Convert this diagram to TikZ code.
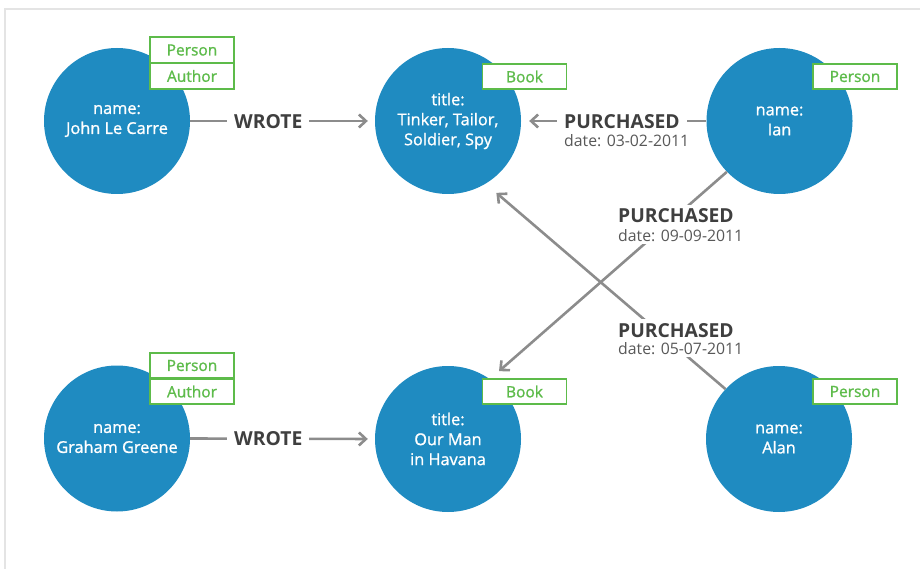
\documentclass[tikz,border=0pt]{standalone}
\usepackage{fontspec}
\setmainfont{Open Sans}
\newfontface\semib{Open Sans}[FakeBold=1.1]
\usetikzlibrary{arrows.meta,calc}

\definecolor{nodeblue}{HTML}{1F8BC1}
\definecolor{labelgreen}{HTML}{5DBB4A}
\definecolor{linegray}{HTML}{8C8C8C}
\definecolor{reltext}{HTML}{3F3F3F}
\definecolor{datetext}{HTML}{585858}
\definecolor{framegray}{HTML}{E4E4E4}

\begin{document}
\begin{tikzpicture}[x=1pt,y=-1pt,
  entity/.style={circle, fill=nodeblue, minimum size=146pt, inner sep=0pt,
    text=white, align=center, font=\semib\fontsize{16.3}{20}\selectfont},
  tag/.style={draw=labelgreen, line width=1.6pt, fill=white, text=labelgreen,
    minimum width=84pt, minimum height=25.5pt, inner sep=0pt,
    font=\semib\fontsize{15.5}{18}\selectfont},
  conn/.style={draw=linegray, line width=2.6pt,
    -{Straight Barb[length=7pt,width=13pt]}},
  rel/.style={fill=white, text=reltext, anchor=base west,
    font=\bfseries\fontsize{19.3}{22}\selectfont, inner xsep=7pt, inner ysep=4pt},
  reldate/.style={fill=white, text=datetext, anchor=base west,
    font=\fontsize{15.8}{18}\selectfont, inner xsep=7pt, inner ysep=3pt},
]
\useasboundingbox (0,0) rectangle (920,569);

% panel frame
\draw[framegray, line width=1.6pt] (5,569) -- (5,9) -- (920,9);

% entities
\node[entity] (jlc)    at (117,121) {name:\\John Le Carre};
\node[entity] (tinker) at (448,121) {title:\\Tinker, Tailor,\\Soldier, Spy};
\node[entity] (ian)    at (779.5,121) {name:\\Ian};
\node[entity] (gg)     at (117,438.5) {name:\\Graham Greene};
\node[entity] (havana) at (448,439) {title:\\Our Man\\in Havana};
\node[entity] (alan)   at (779,439) {name:\\Alan};

% labels
\node[tag] (jlcP)    at (192,50)    {Person};
\node[tag] (jlcA)    at (192,76)    {Author};
\node[tag] (tinkerB) at (524.5,76.5) {Book};
\node[tag] (ianP)    at (855,76.5)  {Person};
\node[tag] (ggP)     at (192,365.5) {Person};
\node[tag] (ggA)     at (192,391.5) {Author};
\node[tag] (havanaB) at (524.5,391.5) {Book};
\node[tag] (alanP)   at (855,391.5) {Person};

% relationships
\draw[conn, shorten >=7pt] (jlc.east) -- (tinker.west);
\draw[conn, shorten >=7pt] (gg.east) -- (havana.west);
\draw[conn, shorten >=8pt] (ian.west) -- (tinker.east);
\draw[conn, shorten >=12pt] (ian.224) -- (havana.55);
\draw[conn, shorten >=14pt] (alan.137) -- (tinker.301);

% relationship captions
\node[rel] (w1) at (227,128.5) {WROTE};
\node[rel] (w2) at (227,445.5) {WROTE};

\node[rel] (p1) at (557,129) {PURCHASED};
\node[reldate] (d1) at (557,146.5) {date: 03-02-2011};

\node[rel] (p2) at (611,223) {PURCHASED};
\node[reldate] (d2) at (611,241) {date: 09-09-2011};

\node[rel] (p3) at (611,337) {PURCHASED};
\node[reldate] (d3) at (611,354) {date: 05-07-2011};
\end{tikzpicture}
\end{document}
